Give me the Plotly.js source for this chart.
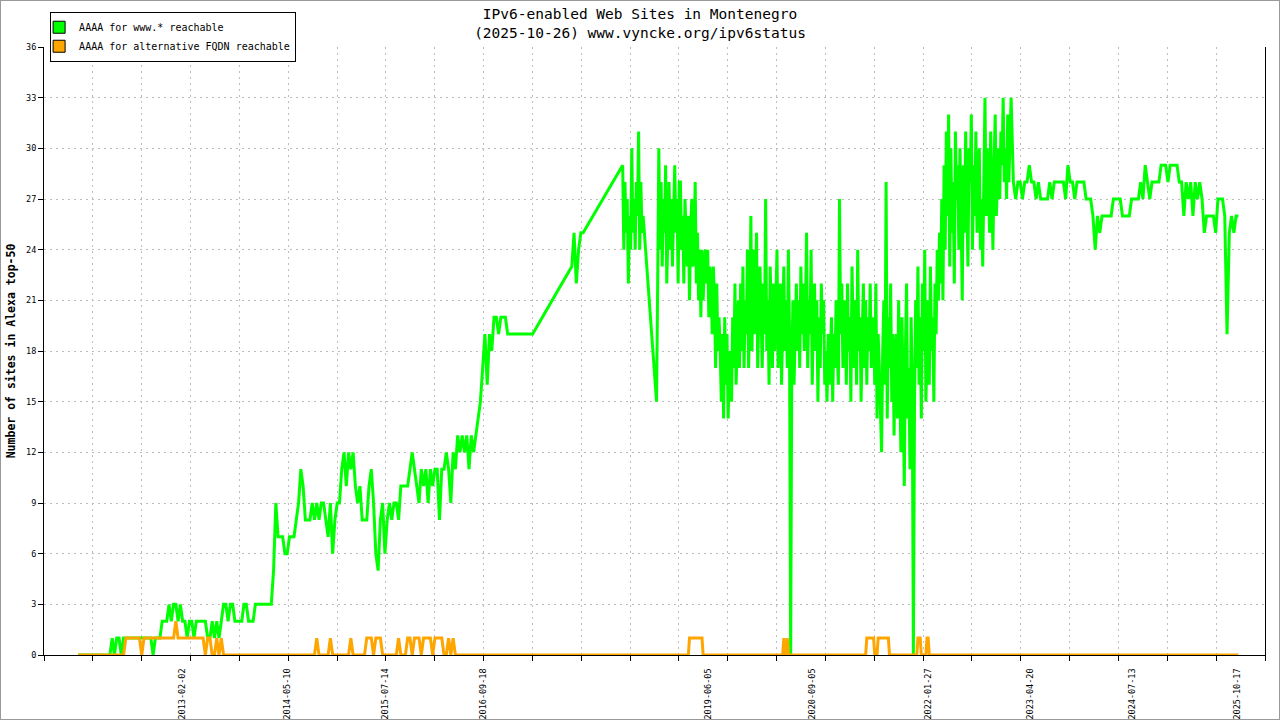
<!DOCTYPE html>
<html>
<head>
<meta charset="utf-8">
<script src="https://cdn.plot.ly/plotly-3.0.1.min.js"></script>
<style>
  body { margin: 0; background: #fff; }
  #wrap { position: relative; width: 1280px; height: 720px; }
  #frame { position: absolute; left: 0; top: 0; width: 1280px; height: 720px;
           box-sizing: border-box; border: 1px solid #999; pointer-events: none; }
</style>
</head>
<body>
<div id="wrap"><div id="chart"></div><div id="frame"></div></div>
<script>
"use strict";

// dates printed under the x axis
const labelDates = ['2013-02-02', '2014-05-10', '2015-07-14', '2016-09-18', '2019-06-05',
                    '2020-09-05', '2022-01-27', '2023-04-20', '2024-07-13', '2025-10-17'];

// samples come in runs: one value every runSteps[r] days from runStarts[r]
const runStarts = ['2011-11-01', '2017-10-12', '2018-05-24', '2018-10-20', '2023-01-27'];
const runSteps = [10, 10, 5, 5, 10];

const wwwRun1 = [
  0,0,0,0,0,0,0,0,0,0,0,0,0,0,0,1,0,1,1,0,1,1,1,1,1,
  1,1,1,1,1,1,1,1,0,1,1,1,2,2,2,3,2,3,3,2,3,2,2,1,2,
  2,1,2,2,2,2,2,1,1,2,1,2,1,2,3,3,2,3,3,2,2,2,2,3,3,
  2,2,2,3,3,3,3,3,3,3,3,5,9,7,7,7,6,6,7,7,7,8,9,11,10,
  8,8,8,9,8,9,8,9,9,8,7,9,6,8,9,9,11,12,10,12,11,12,10,9,10,
  8,8,8,10,11,9,6,5,8,9,6,8,9,8,9,9,8,10,10,10,10,11,12,11,10,
  9,11,10,11,9,11,10,11,11,8,11,11,12,11,9,12,11,13,12,13,12,13,11,13,12,
  13,14,15,17,19,16,19,18,20,20,19,20,20,20,19,19,19,19,19,19,19,19,19,19,19,
  19
];
const wwwRun2 = [23, 25, 22, 24, 25, 25];
const wwwRun3 = [29, 24, 28, 25, 27, 22, 26, 24, 30, 25, 27, 24, 28, 26, 31, 24, 28, 25, 26];
const wwwRun4 = [
  15, 22, 30,
  24, 28, 23, 27, 25, 29, 22, 26, 28, 24, 27, 23, 26, 29, 25, 27, 22, 28,
  28, 24, 26, 22, 27, 25, 23, 26, 21, 25, 27, 23, 24, 28, 22, 25, 21, 24,
  20, 24, 21, 23, 24, 22, 24, 20, 23, 22, 19, 23, 21, 17, 22, 18, 20,
  18, 15, 19, 14, 20, 16, 19, 14, 17, 18, 15, 20, 17, 22, 16, 19, 21, 17,
  22, 18, 23, 17, 21, 19, 24, 17, 20, 26, 18, 24, 19, 22, 25, 17, 21, 23,
  20, 17, 22, 19, 27, 18, 21, 16, 23, 19, 17, 22, 18, 21, 24, 17, 20, 22, 16, 19, 23, 18, 21, 17, 24, 19,
  0,
  17, 21, 16, 20, 22, 18, 21, 17, 23, 19, 22, 18, 20, 25, 17, 21, 19, 24, 16, 20, 22, 18, 21, 15, 20, 17, 22, 19, 21, 16,
  18, 15, 19, 16, 18, 20, 15, 19, 17, 21, 18, 16, 27, 19, 22, 17, 20,
  21, 16, 22, 18, 20, 15, 23, 19, 17, 21, 16, 24, 18, 20, 15, 19, 22, 17, 21, 16, 20, 18, 22, 17, 19,
  20, 16, 22, 14, 19, 17, 15, 12, 18, 21, 16, 28, 14, 20, 17, 22, 15, 19, 13, 18,
  19, 14, 21, 16, 12, 20, 15, 10, 18, 22, 14, 17, 11, 20, 16,
  0,
  15, 21, 17, 23, 16, 20, 14, 22, 18, 24, 15, 19, 21, 16, 23, 18, 20, 15, 22, 19, 24, 21, 25,
  22, 27, 21, 29, 24, 31, 26, 32, 23, 30, 25, 28, 22, 31, 27, 29, 24, 30,
  26, 21, 29, 25, 31, 27, 23, 30, 28, 32, 24, 29, 26, 31, 25, 28, 30, 24, 27, 23, 29, 33,
  26, 30, 28, 25, 31, 27, 24, 29, 32, 26, 28, 30, 27, 31, 29, 33, 28, 30, 27, 32, 28, 30
];
const wwwRun5 = [
  33, 28, 27, 28, 28, 27, 28, 28, 29, 28, 28, 27, 28, 27, 27, 27, 27,
  28, 27, 28, 28, 28, 28, 28, 27, 29, 28, 28, 27, 28, 28, 28, 28, 27, 27, 27,
  26, 24, 26, 25, 26, 26, 26, 26, 26, 27, 27, 27, 27, 26, 26, 26, 26, 27, 27, 27, 27,
  28, 27, 29, 28, 27, 28, 28, 28, 28, 29, 29, 29, 28, 29, 29, 29, 29, 28, 28,
  26, 28, 27, 28, 26, 28, 27, 28, 27, 25, 26, 26, 26, 26, 25, 27, 27, 27, 26,
  19, 25, 26, 25, 26, 26
];

const altRun1 = [
  0,0,0,0,0,0,0,0,0,0,0,0,0,0,0,0,0,0,0,0,0,1,1,1,1,
  1,1,1,0,1,1,1,1,1,1,1,1,1,1,1,1,1,1,2,1,1,1,1,1,1,
  1,1,1,1,1,1,0,1,1,0,0,1,0,1,0,0,0,0,0,0,0,0,0,0,0,
  0,0,0,0,0,0,0,0,0,0,0,0,0,0,0,0,0,0,0,0,0,0,0,0,0,
  0,0,0,0,0,1,0,0,0,0,0,1,0,0,0,0,0,0,0,0,1,0,0,0,0,
  0,0,1,1,1,0,1,1,1,0,0,0,0,0,0,0,1,0,0,0,1,1,0,1,1,
  1,0,1,1,1,1,0,1,1,1,1,0,0,1,0,1,0,0,0,0,0,0,0,0,0,
  0,0,0,0,0,0,0,0,0,0,0,0,0,0,0,0,0,0,0,0,0,0,0,0,0,
  0
];
const altRun2 = [0, 0, 0, 0, 0, 0];
const altRun3 = [0,0,0,0,0,0,0,0,0,0,0,0,0,0,0,0,0,0,0];
const altRun4 = [
  0,0,0,0,0,0,0,0,0,0,0,0, 0,0,0,0,0,0,0,0,0,0,0,0,
  0,0,0,0,0,1,1,1,1,1,1,1, 1,1,1,1,1,0,0,0,0,0,0,0,
  0,0,0,0,0,0,0,0,0,0,0,0, 0,0,0,0,0,0,0,0,0,0,0,0,
  0,0,0,0,0,0,0,0,0,0,0,0, 0,0,0,0,0,0,0,0,0,0,0,0,
  0,0,0,0,0,0,0,0,0,0,0,0, 0,0,0,0,1,0,0,1,0,0,0,0,
  0,0,0,0,0,0,0,0,0,0,0,0, 0,0,0,0,0,0,0,0,0,0,0,0,
  0,0,0,0,0,0,0,0,0,0,0,0, 0,0,0,0,0,0,0,0,0,0,0,0,
  0,0,0,0,0,0,0,0,0,0,0,0, 0,0,0,0,0,1,1,1,1,1,1,1,
  0,0,0,1,1,1,1,1,1,1,1,1, 1,0,0,0,0,0,0,0,0,0,0,0,
  0,0,0,0,0,0,0,0,0,0,0,0, 0,0,1,1,1,0,0,0,0,0,1,1,
  0,0,0,0,0,0,0,0,0,0,0,0, 0,0,0,0,0,0,0,0,0,0,0,0,
  0,0,0,0,0,0,0,0,0,0,0,0, 0,0,0,0,0,0,0,0,0,0,0,0,
  0,0,0,0,0,0,0,0,0,0,0,0, 0,0,0,0,0,0,0,0,0,0,0,0
];
const altRun5 = [
  0,0,0,0,0,0,0,0,0,0,0,0,0,0,0,0,0,0,0,0,0,0,0,0,0,
  0,0,0,0,0,0,0,0,0,0,0,0,0,0,0,0,0,0,0,0,0,0,0,0,0,
  0,0,0,0,0,0,0,0,0,0,0,0,0,0,0,0,0,0,0,0,0,0,0,0,0,
  0,0,0,0,0,0,0,0,0,0,0,0,0,0,0,0,0,0,0,0,0,0,0,0,0,
  0
];

const wwwName = 'AAAA for www.* reachable';
const altName = 'AAAA for alternative FQDN reachable';
const wwwColor = '#00ff00';
const altColor = '#ffa500';
const mono = 'DejaVu Sans Mono, monospace';

function buildSeries(runs) {
  let x = [], y = [];
  runs.forEach((vals, r) => {
    let t0 = Date.parse(runStarts[r] + 'T00:00:00Z');
    vals.forEach((v, i) => {
      x.push(new Date(t0 + i * runSteps[r] * 86400000).toISOString().slice(0, 10));
      y.push(v);
    });
  });
  return {x: x, y: y};
}

let www = buildSeries([wwwRun1, wwwRun2, wwwRun3, wwwRun4, wwwRun5]);
let alt = buildSeries([altRun1, altRun2, altRun3, altRun4, altRun5]);

let lineTrace = (s, color) => ({
  x: s.x, y: s.y, type: 'scatter', mode: 'lines',
  line: {color: color, width: 3},
  showlegend: false, hoverinfo: 'skip'
});

// empty bars only give the legend its filled boxes
let legendTrace = (name, color) => ({
  x: [0], y: [null], type: 'bar', name: name, xaxis: 'x2',
  marker: {color: color, line: {color: '#000', width: 1}},
  hoverinfo: 'skip'
});

let data = [
  lineTrace(www, wwwColor),
  lineTrace(alt, altColor),
  legendTrace(wwwName, wwwColor),
  legendTrace(altName, altColor)
];

let gridStyle = {gridcolor: '#bdbdbd', griddash: '2px,4px', gridwidth: 1};

let layout = {
  width: 1280, height: 720,
  margin: {l: 44, r: 15, t: 44, b: 65},
  paper_bgcolor: '#fff', plot_bgcolor: '#fff',
  title: {
    text: 'IPv6-enabled Web Sites in Montenegro<br>(2025-10-26) www.vyncke.org/ipv6status',
    font: {family: mono, size: 14.5, color: '#000'},
    x: 0.5, xref: 'container', xanchor: 'center',
    y: 0.973, yref: 'container', yanchor: 'top'
  },
  showlegend: true,
  legend: {
    x: 0.005, y: 1.058, xanchor: 'left', yanchor: 'top',
    bgcolor: '#fff', bordercolor: '#000', borderwidth: 1,
    font: {family: mono, size: 10, color: '#000'},
    tracegroupgap: 0, indentation: -12
  },
  xaxis: {
    type: 'date', range: ['2011-06-04', '2026-02-17'],
    tickvals: labelDates, ticktext: labelDates, tickangle: -90,
    ticks: 'outside', ticklen: 9, tickcolor: 'rgba(0,0,0,0)',
    tickfont: {family: mono, size: 8.5, color: '#000'},
    showgrid: false, zeroline: false,
    showline: true, linecolor: '#000', linewidth: 1
  },
  xaxis2: Object.assign({
    overlaying: 'x', anchor: 'y', side: 'bottom',
    range: [0, 25], tick0: 0, dtick: 1,
    showgrid: true, showticklabels: false, zeroline: false, showline: false,
    ticks: 'outside', ticklen: 5, tickcolor: '#000'
  }, gridStyle),
  yaxis: Object.assign({
    range: [0, 36], tick0: 0, dtick: 3,
    ticks: 'outside', ticklen: 5, tickcolor: '#000',
    tickfont: {family: mono, size: 8.5, color: '#000'},
    showgrid: true, zeroline: false,
    showline: true, linecolor: '#000', linewidth: 1, mirror: true,
    title: {
      text: 'Number of sites in Alexa top-50',
      font: {family: mono, size: 11.5, color: '#000', weight: 'bold'},
      standoff: 8
    }
  }, gridStyle)
};

Plotly.newPlot('chart', data, layout, {displayModeBar: false, staticPlot: true});
</script>
</body>
</html>
